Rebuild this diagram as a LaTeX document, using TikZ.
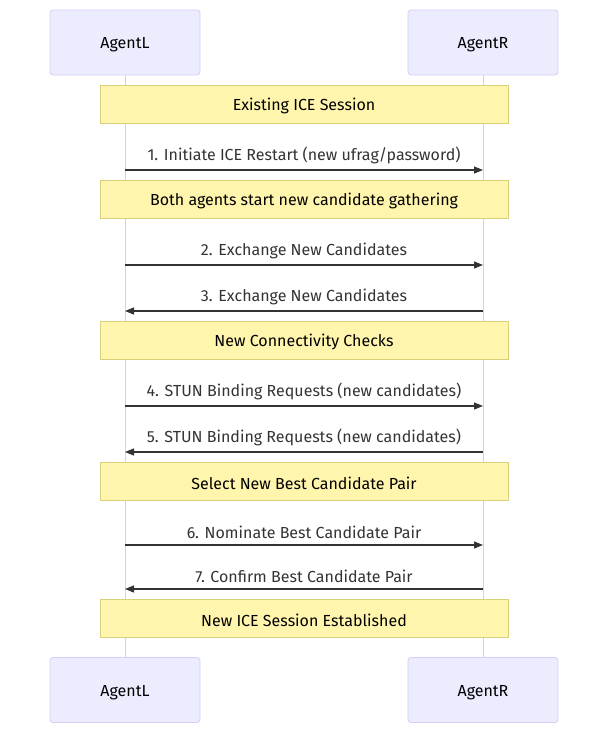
\documentclass[tikz,border=0pt]{standalone}
\usepackage{fontspec}
\setmainfont{Fira Sans}
\usetikzlibrary{arrows.meta}
\definecolor{actorfill}{HTML}{ECECFF}
\definecolor{actorline}{HTML}{D4CDF5}
\definecolor{notefill}{HTML}{FFF5AD}
\definecolor{noteline}{HTML}{D8D07A}
\definecolor{msgcol}{HTML}{333333}
\begin{document}
\begin{tikzpicture}[x=1pt,y=-1pt,
  actor/.style={draw=actorline,fill=actorfill,rounded corners=3pt,minimum width=150pt,minimum height=65pt,inner sep=0pt,line width=0.8pt},
  note/.style={draw=noteline,fill=notefill,minimum width=408pt,minimum height=38pt,inner sep=0pt,line width=0.8pt},
  label/.style={inner sep=0pt,font=\fontsize{16}{19}\selectfont},
  lifeline/.style={draw=actorline,line width=1pt},
  msg/.style={draw=msgcol,line width=1.2pt,-{Triangle[length=9pt,width=7pt]}},
  msgtext/.style={text=msgcol,font=\fontsize{16}{19}\selectfont,inner sep=0pt}]
\useasboundingbox (0,0) rectangle (608,734);
% lifelines
\coordinate (lt) at (125,75); \coordinate (lb) at (125,658);
\coordinate (rt) at (483,75); \coordinate (rb) at (483,658);
\draw[lifeline] (lt) -- (lb);
\draw[lifeline] (rt) -- (rb);
% participants
\node[actor] (aLt) at (125,42.5) {};
\node[actor] (aRt) at (483,42.5) {};
\node[actor] (aLb) at (125,690) {};
\node[actor] (aRb) at (483,690) {};
\foreach \a/\t in {aLt/AgentL,aRt/AgentR,aLb/AgentL,aRb/AgentR}
  \node[label] at ([yshift=-2.5pt]\a.center) {\t};
% notes spanning both agents
\node[note] (n1) at (304,104) {};
\node[note] (n2) at (304,199) {};
\node[note] (n3) at (304,340) {};
\node[note] (n4) at (304,481) {};
\node[note] (n5) at (304,618) {};
\node[label] at ([yshift=-2pt]n1.center) {Existing ICE Session};
\node[label] at ([yshift=-2pt]n2.center) {Both agents start new candidate gathering};
\node[label] at ([yshift=-2pt]n3.center) {New Connectivity Checks};
\node[label] at ([yshift=-2pt]n4.center) {Select New Best Candidate Pair};
\node[label] at ([yshift=-2pt]n5.center) {New ICE Session Established};
% message anchors on the lifelines
\foreach \n/\y in {1/170,2/265,3/311,4/406,5/452,6/545,7/589} {
  \coordinate (L\n) at (125,\y);
  \coordinate (R\n) at (483,\y);
}
\draw[msg] (L1) -- (R1) node[msgtext,midway,above=5.5pt] (t1) {1. Initiate ICE Restart (new ufrag/password)};
\draw[msg] (L2) -- (R2) node[msgtext,midway,above=5.5pt] (t2) {2. Exchange New Candidates};
\draw[msg] (R3) -- (L3) node[msgtext,midway,above=5.5pt] (t3) {3. Exchange New Candidates};
\draw[msg] (L4) -- (R4) node[msgtext,midway,above=5.5pt] (t4) {4. STUN Binding Requests (new candidates)};
\draw[msg] (R5) -- (L5) node[msgtext,midway,above=5.5pt] (t5) {5. STUN Binding Requests (new candidates)};
\draw[msg] (L6) -- (R6) node[msgtext,midway,above=5.5pt] (t6) {6. Nominate Best Candidate Pair};
\draw[msg] (R7) -- (L7) node[msgtext,midway,above=5.5pt] (t7) {7. Confirm Best Candidate Pair};
\end{tikzpicture}
\end{document}
